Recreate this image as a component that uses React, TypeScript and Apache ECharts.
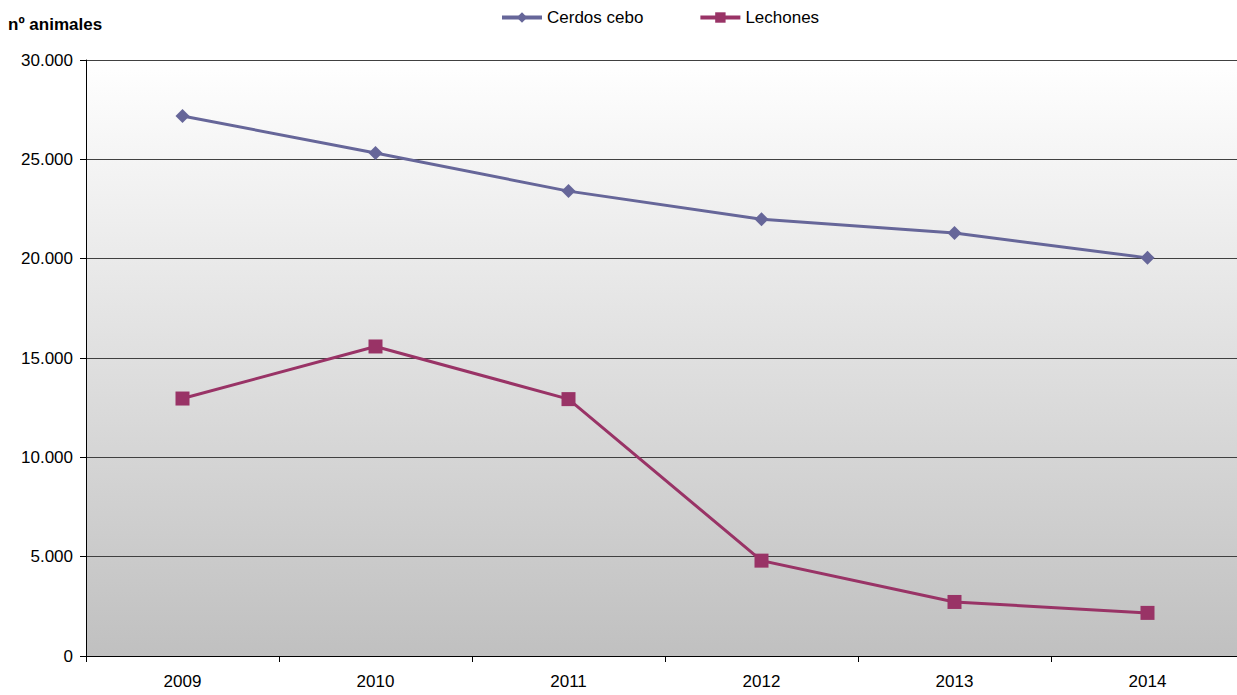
import React, { useEffect, useRef } from "react";
import * as echarts from "echarts";

const years = ["2009", "2010", "2011", "2012", "2013", "2014"];
const cerdosCebo = [27180, 25320, 23400, 21980, 21290, 20040];
const lechones = [12960, 15580, 12930, 4800, 2720, 2170];
const yTicks = [0, 5000, 10000, 15000, 20000, 25000, 30000];

const fmt = (v: number) => String(v).replace(/\B(?=(\d{3})+(?!\d))/g, ".");
const FONT = "Liberation Sans, Arial, sans-serif";

export default function App() {
  const ref = useRef<HTMLDivElement>(null);
  useEffect(() => {
    const chart = echarts.init(ref.current!, null, { renderer: "svg" });
    chart.setOption({
      animation: false,
      textStyle: { fontFamily: FONT },
      title: {
        text: "nº animales",
        left: 3,
        top: 11,
        textStyle: { fontSize: 17, fontWeight: "bold", color: "#000", fontFamily: FONT },
      },
      legend: {
        top: 4,
        left: 495,
        itemGap: 55,
        itemWidth: 40,
        itemHeight: 13,
        lineStyle: { width: 4 },
        textStyle: { fontSize: 17, color: "#000", fontFamily: FONT },
        data: ["Cerdos cebo", "Lechones"],
      },
      grid: {
        left: 86,
        top: 60,
        right: 0,
        bottom: 39,
        show: true,
        borderWidth: 0,
        backgroundColor: new echarts.graphic.LinearGradient(0, 0, 0, 1, [
          { offset: 0, color: "#ffffff" },
          { offset: 1, color: "#c0c0c0" },
        ]),
      },
      xAxis: {
        type: "category",
        data: years,
        boundaryGap: true,
        axisLine: { lineStyle: { color: "#000", width: 1 } },
        axisTick: { show: true, length: 6, lineStyle: { color: "#000" } },
        axisLabel: { fontSize: 17, color: "#000", margin: 17 },
      },
      yAxis: {
        type: "value",
        min: yTicks[0],
        max: yTicks[yTicks.length - 1],
        interval: 5000,
        axisLine: { show: true, lineStyle: { color: "#000", width: 1 } },
        axisTick: { show: true, length: 6, lineStyle: { color: "#000" } },
        axisLabel: { fontSize: 17, color: "#000", margin: 13, formatter: (v: number) => fmt(v) },
        splitLine: { show: true, lineStyle: { color: "#404040", width: 1 } },
      },
      series: [
        {
          name: "Cerdos cebo",
          type: "line",
          data: cerdosCebo,
          symbol: "diamond",
          symbolSize: 14,
          itemStyle: { color: "#666699" },
          lineStyle: { color: "#666699", width: 3 },
        },
        {
          name: "Lechones",
          type: "line",
          data: lechones,
          symbol: "rect",
          symbolSize: 14,
          itemStyle: { color: "#993366" },
          lineStyle: { color: "#993366", width: 3 },
        },
      ],
    });
    return () => chart.dispose();
  }, []);
  return (
    <div
      style={{ position: "fixed", left: 0, top: 0, width: 1237, height: 695, overflow: "hidden", background: "#fff" }}
    >
      <div ref={ref} style={{ width: 1244, height: 695 }} />
    </div>
  );
}
